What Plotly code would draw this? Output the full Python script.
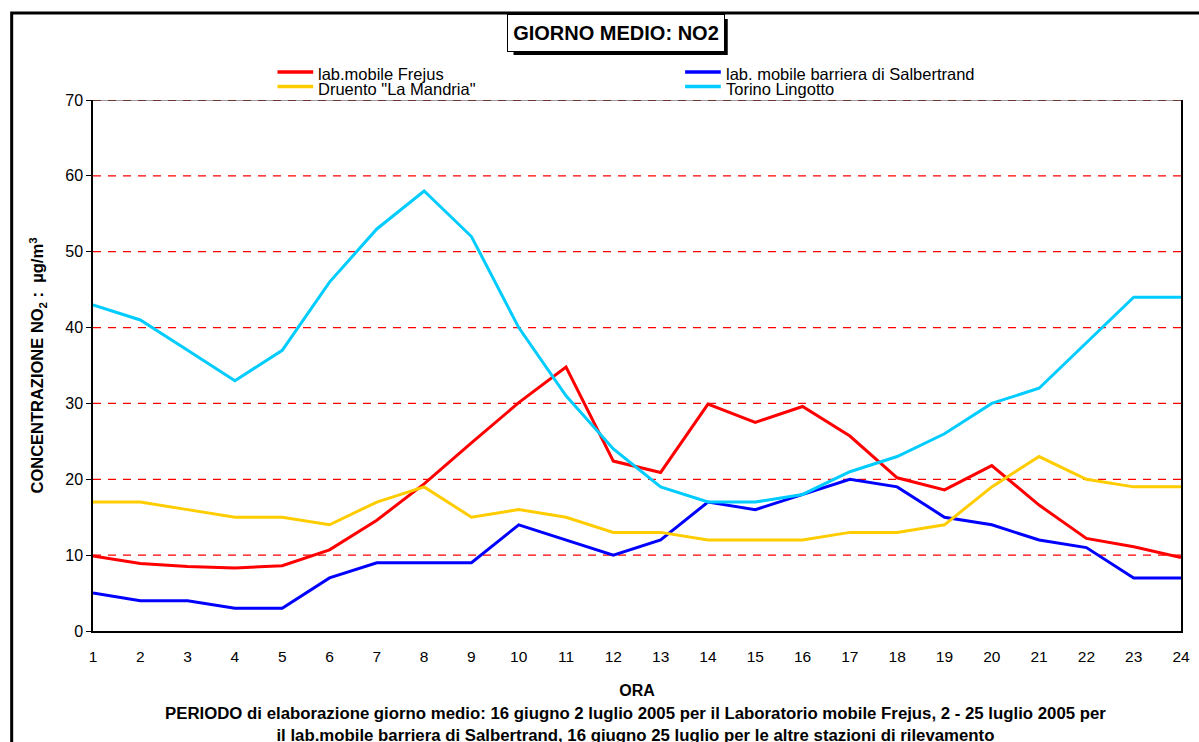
import plotly.graph_objects as go

hours = list(range(1, 25))
hour_labels = [str(h) for h in hours]

frejus = [9.9, 8.9, 8.5, 8.3, 8.6, 10.7, 14.6, 19.4, 24.8, 30.1, 34.8, 22.4,
          20.9, 29.9, 27.5, 29.6, 25.7, 20.2, 18.6, 21.8, 16.6, 12.2, 11.1, 9.7]
salbertrand = [5, 4, 4, 3, 3, 7, 9, 9, 9, 14, 12, 10,
               12, 17, 16, 18, 20, 19, 15, 14, 12, 11, 7, 7]
druento = [17, 17, 16, 15, 15, 14, 17, 19, 15, 16, 15, 13,
           13, 12, 12, 12, 13, 13, 14, 19, 23, 20, 19, 19]
lingotto = [43, 41, 37, 33, 37, 46, 53, 58, 52, 40, 31, 24,
            19, 17, 17, 18, 21, 23, 26, 30, 32, 38, 44, 44]

series_names = ["lab.mobile Frejus", "lab. mobile barriera di Salbertrand",
                'Druento "La Mandria"', "Torino Lingotto"]
series_values = [frejus, salbertrand, druento, lingotto]
series_colors = ["#FF0000", "#0000FF", "#FFCC00", "#00CCFF"]

y_ticks = [0, 10, 20, 30, 40, 50, 60, 70]
grid_values = [10, 20, 30, 40, 50, 60]

W, H = 1199, 742
L, R, T, B = 93, 1190, 100, 631
FONT = "Arial, Liberation Sans, sans-serif"


def px_x(px):
    return (px - L) / (R - L)


def px_y(py):
    return (B - py) / (B - T)


fig = go.Figure()
for name, vals, col in zip(series_names, series_values, series_colors):
    fig.add_trace(go.Scatter(x=hours, y=vals, mode="lines", name=name,
                             line=dict(color=col, width=3), showlegend=False))

fig.update_layout(
    width=W, height=H,
    margin=dict(l=L, r=W - R, t=T, b=H - B, pad=0),
    paper_bgcolor="white", plot_bgcolor="white",
    font=dict(family=FONT, color="black", size=15),
    showlegend=False,
)

fig.update_xaxes(
    range=[1, 24], tickmode="array", tickvals=hours, ticktext=hour_labels,
    showgrid=False, zeroline=False, showline=True, linecolor="black", linewidth=1.5,
    ticks="", ticklabelstandoff=11, tickfont=dict(size=15.5),
    title=dict(text="<b>ORA</b>", font=dict(size=16), standoff=20),
)
fig.update_yaxes(
    range=[0, 70], tickmode="array", tickvals=y_ticks,
    showgrid=False, zeroline=False, showline=True, linecolor="black", linewidth=1.5,
    mirror=True,
    ticks="outside", ticklen=5, tickcolor="black", tickfont=dict(size=16),
    title=dict(text="<b>CONCENTRAZIONE NO<sub>2</sub> :  µg/m<sup>3</sup></b>",
               font=dict(size=16.5), standoff=17),
)

shapes = [
    # outer frame
    dict(type="rect", xref="paper", yref="paper",
         x0=px_x(11), x1=px_x(1215), y0=px_y(760), y1=px_y(13),
         line=dict(color="black", width=3), fillcolor="rgba(0,0,0,0)", layer="below"),
]
# dashed red gridlines
for g in grid_values:
    shapes.append(dict(type="line", xref="paper", yref="y", x0=0, x1=1, y0=g, y1=g,
                       line=dict(color="#FF0000", width=1.3, dash="8px,7px"), layer="below"))
# top border of plot area
shapes.append(dict(type="line", xref="paper", yref="y", x0=0, x1=1, y0=70, y1=70,
                   line=dict(color="#7a7a7a", width=1.5), layer="below"))
shapes.append(dict(type="line", xref="paper", yref="y", x0=0, x1=1, y0=70, y1=70,
                   line=dict(color="#601515", width=1.5, dash="8px,7px"), layer="below"))
# title shadow
shapes.append(dict(type="rect", xref="paper", yref="paper",
                   x0=px_x(517), x1=px_x(733), y0=px_y(55), y1=px_y(19),
                   line=dict(width=0), fillcolor="black"))

# legend (manual, two columns)
leg_cols = [279, 690, 279, 690]
leg_rows = [72, 72, 86.5, 86.5]
for name, col, lx, ly in zip(series_names, series_colors, leg_cols, leg_rows):
    shapes.append(dict(type="line", xref="paper", yref="paper",
                       x0=px_x(lx), x1=px_x(lx + 36), y0=px_y(ly), y1=px_y(ly),
                       line=dict(color=col, width=3.5)))
    fig.add_annotation(xref="paper", yref="paper", x=px_x(lx + 39), y=px_y(ly + 2),
                       xanchor="left", yanchor="middle", text=name, showarrow=False,
                       font=dict(size=16.5, family=FONT))

fig.update_layout(shapes=shapes)

fig.add_annotation(
    xref="paper", yref="paper", x=px_x(620), y=px_y(33),
    text="<b>GIORNO MEDIO: NO2</b>", showarrow=False,
    font=dict(size=20, family=FONT), bgcolor="white",
    bordercolor="black", borderwidth=1, width=214, height=34,
    xanchor="center", yanchor="middle",
)
fig.add_annotation(
    xref="paper", yref="paper", x=px_x(640), y=px_y(724), xanchor="center", yanchor="middle",
    text=("<b>PERIODO di elaborazione giorno medio: 16 giugno 2 luglio 2005 per il Laboratorio mobile Frejus, 2 - 25 luglio 2005 per</b>"
          "<br><b>il lab.mobile barriera di Salbertrand, 16 giugno 25 luglio per le altre stazioni di rilevamento</b>"),
    showarrow=False, font=dict(size=16.8, family=FONT), align="center",
)

fig.write_html("out.html", config={"displayModeBar": False},
               post_script="document.body.style.margin='0';document.body.style.overflow='hidden';")
